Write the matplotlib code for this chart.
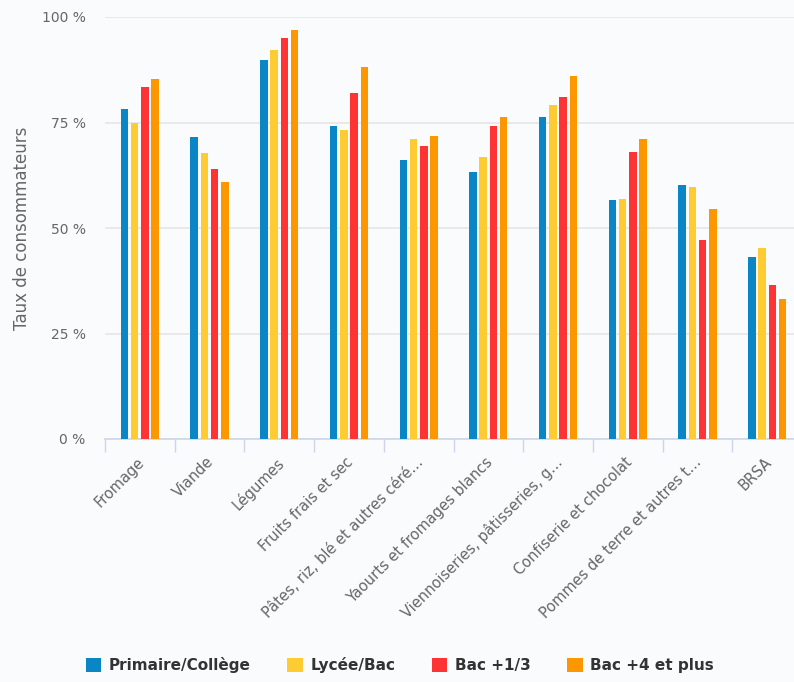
import numpy as np
import matplotlib.pyplot as plt

categories = ['Fromage', 'Viande', 'Légumes', 'Fruits frais et sec',
              'Pâtes, riz, blé et autres céré…', 'Yaourts et fromages blancs',
              'Viennoiseries, pâtisseries, g…', 'Confiserie et chocolat',
              'Pommes de terre et autres t…', 'BRSA']
series_names = ['Primaire/Collège', 'Lycée/Bac', 'Bac +1/3', 'Bac +4 et plus']
primaire = [78.3, 71.5, 89.7, 74.2, 66.0, 63.3, 76.2, 56.6, 60.3, 43.1]
lycee = [74.8, 67.7, 92.1, 73.2, 71.0, 66.8, 79.1, 56.9, 59.6, 45.3]
bac13 = [83.3, 64.0, 95.1, 81.9, 69.4, 74.2, 81.0, 68.0, 47.1, 36.5]
bac4 = [85.4, 61.0, 96.9, 88.1, 71.8, 76.2, 86.0, 71.1, 54.5, 33.1]
colors = ['#0a86c6', '#fecb33', '#fe3334', '#fd9700']
yticks = [0, 25, 50, 75, 100]
ytick_labels = ['0 %', '25 %', '50 %', '75 %', '100 %']

bg = '#fafbfd'
fig = plt.figure(figsize=(7.94, 6.82), dpi=100, facecolor=bg)
# axes extends slightly past the right edge, like the cropped original
ax = fig.add_axes([105 / 794, 1 - 439 / 682, 697 / 794, 422 / 682], facecolor=bg)

x = np.arange(len(categories))
pitch = 0.147
width = 0.108
for i, (vals, name, c) in enumerate(zip([primaire, lycee, bac13, bac4], series_names, colors)):
    ax.bar(x + (i - 1.5) * pitch, vals, width, color=c, label=name, zorder=3)

ax.set_xlim(-0.5, len(categories) - 0.5)
ax.set_ylim(0, 100)
ax.set_yticks(yticks)
ax.set_yticklabels(ytick_labels, color='#666666', fontsize=10)
ax.yaxis.grid(True, color='#e6e6e6', linewidth=1.2, zorder=0)
ax.tick_params(axis='y', length=0, pad=14)

ax.set_xticks(np.arange(len(categories) + 1) - 0.5, minor=True)
ax.set_xticks(x - 0.05)
ax.set_xticklabels(categories, rotation=45, ha='right', rotation_mode='anchor',
                   color='#666666', fontsize=10.5)
ax.tick_params(axis='x', which='major', length=0, pad=11)
ax.tick_params(axis='x', which='minor', length=9, color='#ccd6eb', width=1)

for s in ['top', 'right', 'left']:
    ax.spines[s].set_visible(False)
ax.spines['bottom'].set_color('#ccd6eb')
ax.spines['bottom'].set_linewidth(1.2)

ax.set_ylabel('Taux de consommateurs', color='#666666', fontsize=12, labelpad=8)

leg = fig.legend(loc='center', bbox_to_anchor=(400 / 794, 1 - 665 / 682), ncol=4,
                 frameon=False, handlelength=1.0, handleheight=1.0, columnspacing=2.4,
                 handletextpad=0.5, prop={'weight': 'bold', 'size': 11})
for t in leg.get_texts():
    t.set_color('#333333')

fig.savefig('out.png', dpi=100, facecolor=bg)
